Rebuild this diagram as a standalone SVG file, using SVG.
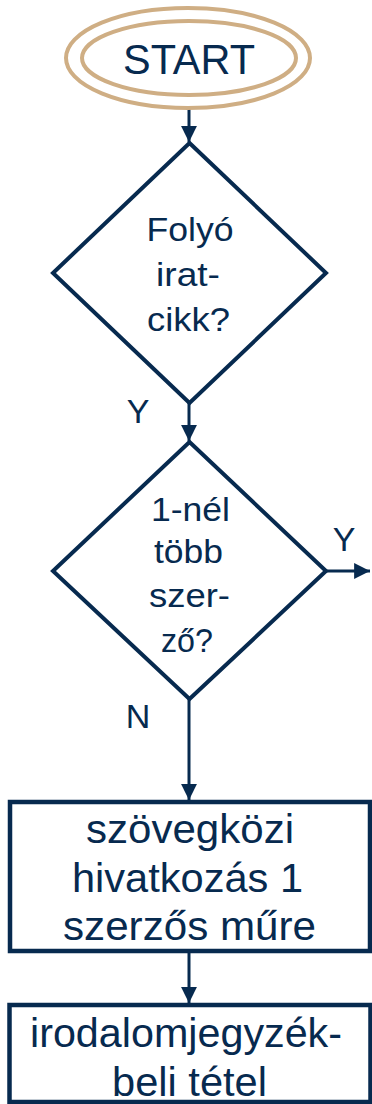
<svg xmlns="http://www.w3.org/2000/svg" width="372" height="1104" viewBox="0 0 372 1104">
<style>
.t{font-family:"Liberation Sans",Arial,sans-serif;fill:#072A4F;text-anchor:middle}
.d{font-size:34px}
.r{font-size:41px}
.shape{fill:#fff;stroke:#072A4F;stroke-width:4;stroke-linejoin:miter}
.ell{fill:none;stroke:#CFAE84;stroke-width:4}
.c{stroke:#072A4F;stroke-width:3;fill:none}
</style>
<defs>
<marker id="ah" viewBox="0 0 10 10" refX="10" refY="5" markerWidth="5.3" markerHeight="5.3" markerUnits="strokeWidth" orient="auto">
<path d="M0,0 L10,5 L0,10 z" fill="#072A4F"/>
</marker>
</defs>
<g id="connectors">
<line class="c" x1="189" y1="108" x2="189" y2="142" marker-end="url(#ah)"/>
<line class="c" x1="189" y1="403" x2="189" y2="441" marker-end="url(#ah)"/>
<line class="c" x1="326" y1="571" x2="370" y2="571" marker-end="url(#ah)"/>
<line class="c" x1="189" y1="699" x2="189" y2="800" marker-end="url(#ah)"/>
<line class="c" x1="189" y1="952" x2="189" y2="1003" marker-end="url(#ah)"/>
<text class="t d" x="138" y="423">Y</text>
<text class="t d" x="344" y="551">Y</text>
<text class="t d" x="138" y="728">N</text>
</g>
<g id="start">
<ellipse class="ell" cx="188" cy="58" rx="122" ry="50"/>
<ellipse class="ell" cx="189" cy="58" rx="107" ry="37"/>
<text class="t" style="font-size:43px" x="189" y="74" textLength="132" lengthAdjust="spacingAndGlyphs">START</text>
</g>
<g id="decision1">
<polygon class="shape" points="189.5,143 326,273 189.5,403 53,273"/>
<text class="t d" x="190" y="241" textLength="87" lengthAdjust="spacingAndGlyphs">Folyó</text>
<text class="t d" x="188" y="286" textLength="64" lengthAdjust="spacingAndGlyphs">irat-</text>
<text class="t d" x="188.5" y="331" textLength="83" lengthAdjust="spacingAndGlyphs">cikk?</text>
</g>
<g id="decision2">
<polygon class="shape" points="189.5,442 326,571 189.5,699 53,571"/>
<text class="t d" x="190.5" y="521" textLength="79" lengthAdjust="spacingAndGlyphs">1-nél</text>
<text class="t d" x="188.5" y="563" textLength="69" lengthAdjust="spacingAndGlyphs">több</text>
<text class="t d" x="189.5" y="607" textLength="81" lengthAdjust="spacingAndGlyphs">szer-</text>
<text class="t d" x="187" y="652" textLength="52" lengthAdjust="spacingAndGlyphs">ző?</text>
</g>
<g id="process1">
<rect class="shape" x="10" y="802" width="360" height="149" style="stroke-width:4.5"/>
<text class="t r" x="190" y="843" textLength="208" lengthAdjust="spacingAndGlyphs">szövegközi</text>
<text class="t r" x="187.5" y="892" textLength="231" lengthAdjust="spacingAndGlyphs">hivatkozás 1</text>
<text class="t r" x="189.5" y="940" textLength="253" lengthAdjust="spacingAndGlyphs">szerzős műre</text>
</g>
<g id="process2">
<rect class="shape" x="9.5" y="1005" width="361" height="97" style="stroke-width:4.5"/>
<text class="t r" x="186" y="1047" textLength="312" lengthAdjust="spacingAndGlyphs">irodalomjegyzék-</text>
<text class="t r" x="189.5" y="1096" textLength="155" lengthAdjust="spacingAndGlyphs">beli tétel</text>
</g>
</svg>
